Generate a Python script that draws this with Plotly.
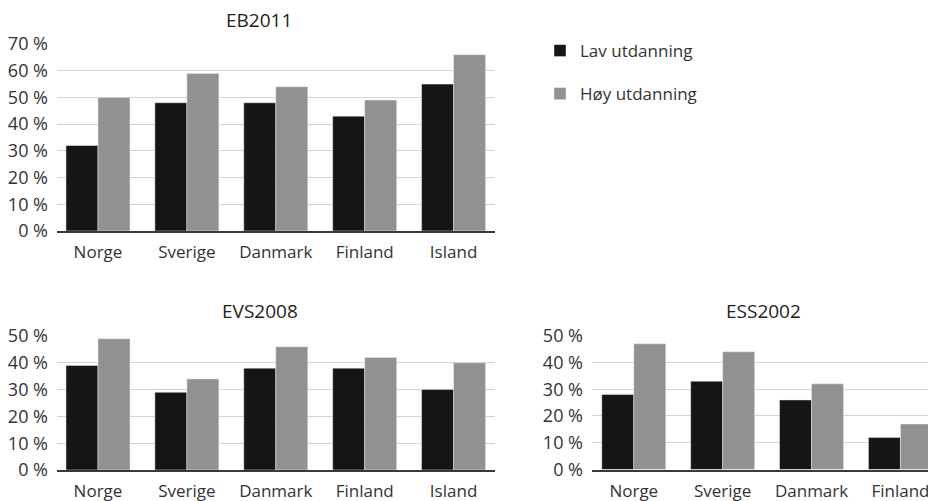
import plotly.graph_objects as go

# page body has an 8px margin, so the figure is placed at (8, 8)
OFF = 8
W, H = 928, 493

countries5 = ["Norge", "Sverige", "Danmark", "Finland", "Island"]
countries4 = ["Norge", "Sverige", "Danmark", "Finland"]

eb2011_lav = [32, 48, 48, 43, 55]
eb2011_hoy = [50, 59, 54, 49, 66]
evs2008_lav = [39, 29, 38, 38, 30]
evs2008_hoy = [49, 34, 46, 42, 40]
ess2002_lav = [28, 33, 26, 12]
ess2002_hoy = [47, 44, 32, 17]

series_names = ["Lav utdanning", "Høy utdanning"]
titles = ["EB2011", "EVS2008", "ESS2002"]

BLACK = "#151515"
GRAY = "#919192"
FONT = "Open Sans"

fig = go.Figure()

def px_x(p):
    return (p - OFF) / W

def px_y(p):
    return (H - (p - OFF)) / H

panels = [
    (countries5, eb2011_lav, eb2011_hoy, "x", "y"),
    (countries5, evs2008_lav, evs2008_hoy, "x2", "y2"),
    (countries4, ess2002_lav, ess2002_hoy, "x3", "y3"),
]

for i, (cats, lav, hoy, xa, ya) in enumerate(panels):
    fig.add_trace(go.Bar(x=cats, y=lav, name=series_names[0], marker_color=BLACK,
                         xaxis=xa, yaxis=ya, showlegend=(i == 0), legendgroup="lav"))
    fig.add_trace(go.Bar(x=cats, y=hoy, name=series_names[1], marker_color=GRAY,
                         xaxis=xa, yaxis=ya, showlegend=(i == 0), legendgroup="hoy"))

xcommon = dict(type="category", showline=True, linecolor="#3a3a3a", linewidth=1.5,
               ticks="", showgrid=False, automargin=False, ticklabelstandoff=5,
               tickfont=dict(family=FONT, size=17, color="#333333"),
               fixedrange=True)
ycommon = dict(showgrid=True, gridcolor="#d4d4d4", gridwidth=1, zeroline=False,
               ticksuffix=" %", ticks="", showline=False, automargin=False,
               ticklabelstandoff=8,
               tickfont=dict(family=FONT, size=18, color="#333333"))

fig.update_layout(
    width=W, height=H,
    margin=dict(l=0, r=0, t=0, b=0, autoexpand=False),
    paper_bgcolor="white", plot_bgcolor="white",
    barmode="group", bargap=0.28, bargroupgap=0,
    font=dict(family=FONT, size=17, color="#333333"),
    xaxis=dict(**xcommon, domain=[px_x(57), px_x(495)], anchor="y", range=[-0.461, 4.466]),
    yaxis=dict(**ycommon, domain=[px_y(231), px_y(44)], anchor="x", range=[0, 70], dtick=10),
    xaxis2=dict(**xcommon, domain=[px_x(57), px_x(495)], anchor="y2", range=[-0.461, 4.466]),
    yaxis2=dict(**ycommon, domain=[px_y(470), px_y(336)], anchor="x2", range=[0, 50], dtick=10),
    xaxis3=dict(**xcommon, domain=[px_x(592), 1.0], anchor="y3", range=[-0.47, 3.40]),
    yaxis3=dict(**ycommon, domain=[px_y(469.5), px_y(335.7)], anchor="x3", range=[0, 50], dtick=10),
    legend=dict(x=px_x(540), y=px_y(33), xanchor="left", yanchor="top",
                font=dict(family=FONT, size=17, color="#333333"),
                tracegroupgap=18, bgcolor="rgba(0,0,0,0)"),
    annotations=[
        dict(text=titles[0], x=px_x(259), y=px_y(20.5), xref="paper", yref="paper",
             xanchor="center", yanchor="middle", borderpad=0,
             showarrow=False, font=dict(family=FONT, size=19, color="#222222")),
        dict(text=titles[1], x=px_x(260), y=px_y(311), xref="paper", yref="paper",
             xanchor="center", yanchor="middle", borderpad=0,
             showarrow=False, font=dict(family=FONT, size=19, color="#222222")),
        dict(text=titles[2], x=px_x(763), y=px_y(311), xref="paper", yref="paper",
             xanchor="center", yanchor="middle", borderpad=0,
             showarrow=False, font=dict(family=FONT, size=19, color="#222222")),
    ],
)

fig.write_html("out.html")
